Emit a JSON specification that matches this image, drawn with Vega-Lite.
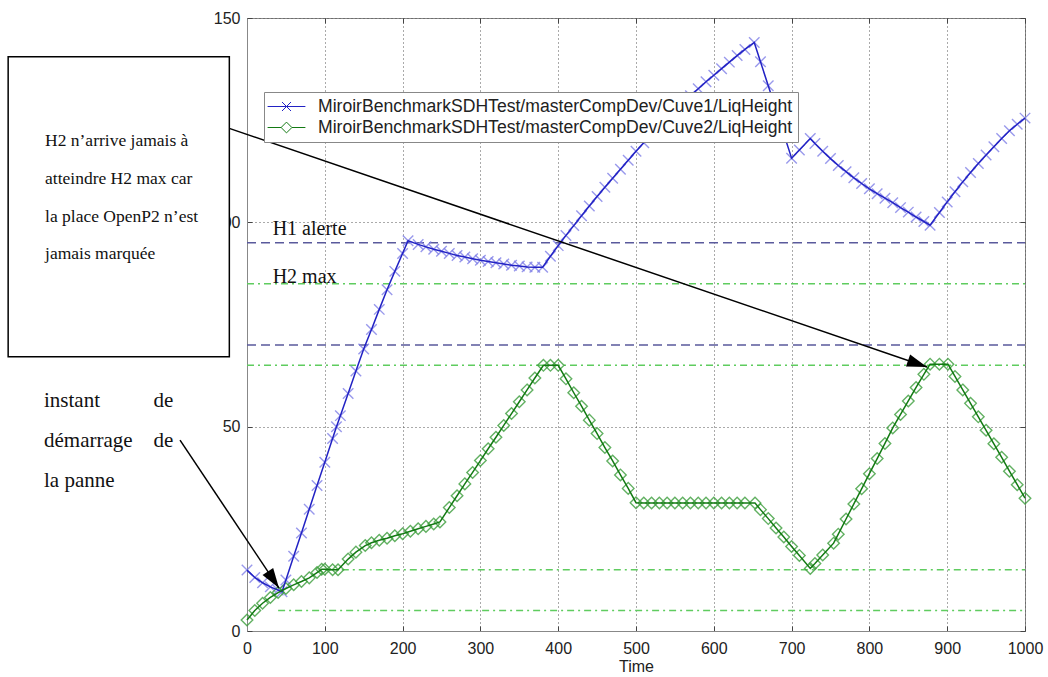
{
  "$schema": "https://vega.github.io/schema/vega-lite/v6.json",
  "width": 778,
  "height": 613,
  "autosize": {"type": "none"},
  "padding": {"left": 247, "top": 18, "right": 23, "bottom": 46},
  "background": "white",
  "config": {"view": {"stroke": "#888", "strokeWidth": 1}},
  "datasets": {
    "levels": [
      {"time": 0, "h": 14.9, "s": "Cuve1"}, {"time": 10, "h": 13.1, "s": "Cuve1"}, {"time": 20, "h": 11.8, "s": "Cuve1"}, {"time": 30, "h": 10.8, "s": "Cuve1"}, {"time": 40, "h": 10.0, "s": "Cuve1"}, {"time": 45, "h": 9.6, "s": "Cuve1"}, {"time": 50, "h": 12.5, "s": "Cuve1"}, {"time": 60, "h": 18.3, "s": "Cuve1"}, {"time": 70, "h": 24.0, "s": "Cuve1"}, {"time": 80, "h": 29.8, "s": "Cuve1"}, {"time": 90, "h": 35.6, "s": "Cuve1"}, {"time": 100, "h": 41.3, "s": "Cuve1"}, {"time": 110, "h": 47.1, "s": "Cuve1"}, {"time": 115, "h": 50.0, "s": "Cuve1"}, {"time": 120, "h": 52.7, "s": "Cuve1"}, {"time": 130, "h": 58.1, "s": "Cuve1"}, {"time": 140, "h": 63.6, "s": "Cuve1"}, {"time": 150, "h": 69.0, "s": "Cuve1"}, {"time": 160, "h": 73.8, "s": "Cuve1"}, {"time": 170, "h": 78.7, "s": "Cuve1"}, {"time": 180, "h": 83.5, "s": "Cuve1"}, {"time": 190, "h": 88.0, "s": "Cuve1"}, {"time": 200, "h": 92.4, "s": "Cuve1"}, {"time": 207, "h": 95.5, "s": "Cuve1"}, {"time": 220, "h": 94.6, "s": "Cuve1"}, {"time": 230, "h": 94.0, "s": "Cuve1"}, {"time": 240, "h": 93.4, "s": "Cuve1"}, {"time": 250, "h": 92.9, "s": "Cuve1"}, {"time": 260, "h": 92.4, "s": "Cuve1"}, {"time": 270, "h": 91.9, "s": "Cuve1"}, {"time": 280, "h": 91.5, "s": "Cuve1"}, {"time": 290, "h": 91.1, "s": "Cuve1"}, {"time": 300, "h": 90.7, "s": "Cuve1"}, {"time": 310, "h": 90.4, "s": "Cuve1"}, {"time": 320, "h": 90.1, "s": "Cuve1"}, {"time": 330, "h": 89.8, "s": "Cuve1"}, {"time": 340, "h": 89.5, "s": "Cuve1"}, {"time": 350, "h": 89.3, "s": "Cuve1"}, {"time": 360, "h": 89.1, "s": "Cuve1"}, {"time": 370, "h": 89.0, "s": "Cuve1"}, {"time": 380, "h": 89.0, "s": "Cuve1"}, {"time": 390, "h": 91.7, "s": "Cuve1"}, {"time": 400, "h": 94.3, "s": "Cuve1"}, {"time": 410, "h": 96.8, "s": "Cuve1"}, {"time": 420, "h": 99.2, "s": "Cuve1"}, {"time": 430, "h": 101.6, "s": "Cuve1"}, {"time": 440, "h": 104.0, "s": "Cuve1"}, {"time": 450, "h": 106.3, "s": "Cuve1"}, {"time": 460, "h": 108.6, "s": "Cuve1"}, {"time": 470, "h": 110.8, "s": "Cuve1"}, {"time": 480, "h": 113.0, "s": "Cuve1"}, {"time": 490, "h": 115.2, "s": "Cuve1"}, {"time": 500, "h": 117.4, "s": "Cuve1"}, {"time": 510, "h": 119.5, "s": "Cuve1"}, {"time": 520, "h": 121.5, "s": "Cuve1"}, {"time": 530, "h": 123.5, "s": "Cuve1"}, {"time": 540, "h": 125.4, "s": "Cuve1"}, {"time": 550, "h": 127.3, "s": "Cuve1"}, {"time": 560, "h": 129.2, "s": "Cuve1"}, {"time": 570, "h": 131.0, "s": "Cuve1"}, {"time": 580, "h": 132.7, "s": "Cuve1"}, {"time": 590, "h": 134.4, "s": "Cuve1"}, {"time": 600, "h": 136.0, "s": "Cuve1"}, {"time": 610, "h": 137.6, "s": "Cuve1"}, {"time": 620, "h": 139.2, "s": "Cuve1"}, {"time": 630, "h": 140.8, "s": "Cuve1"}, {"time": 640, "h": 142.3, "s": "Cuve1"}, {"time": 652, "h": 144.0, "s": "Cuve1"}, {"time": 660, "h": 139.3, "s": "Cuve1"}, {"time": 670, "h": 133.4, "s": "Cuve1"}, {"time": 680, "h": 127.5, "s": "Cuve1"}, {"time": 690, "h": 121.6, "s": "Cuve1"}, {"time": 700, "h": 115.7, "s": "Cuve1"}, {"time": 710, "h": 117.7, "s": "Cuve1"}, {"time": 724, "h": 120.5, "s": "Cuve1"}, {"time": 730, "h": 119.3, "s": "Cuve1"}, {"time": 740, "h": 117.4, "s": "Cuve1"}, {"time": 750, "h": 115.6, "s": "Cuve1"}, {"time": 760, "h": 113.9, "s": "Cuve1"}, {"time": 770, "h": 112.4, "s": "Cuve1"}, {"time": 780, "h": 110.9, "s": "Cuve1"}, {"time": 790, "h": 109.5, "s": "Cuve1"}, {"time": 800, "h": 108.2, "s": "Cuve1"}, {"time": 810, "h": 107.0, "s": "Cuve1"}, {"time": 820, "h": 105.9, "s": "Cuve1"}, {"time": 830, "h": 104.8, "s": "Cuve1"}, {"time": 840, "h": 103.6, "s": "Cuve1"}, {"time": 850, "h": 102.5, "s": "Cuve1"}, {"time": 860, "h": 101.3, "s": "Cuve1"}, {"time": 870, "h": 100.2, "s": "Cuve1"}, {"time": 878, "h": 99.3, "s": "Cuve1"}, {"time": 890, "h": 102.4, "s": "Cuve1"}, {"time": 900, "h": 105.0, "s": "Cuve1"}, {"time": 910, "h": 107.5, "s": "Cuve1"}, {"time": 920, "h": 109.9, "s": "Cuve1"}, {"time": 930, "h": 112.2, "s": "Cuve1"}, {"time": 940, "h": 114.4, "s": "Cuve1"}, {"time": 950, "h": 116.5, "s": "Cuve1"}, {"time": 960, "h": 118.5, "s": "Cuve1"}, {"time": 970, "h": 120.5, "s": "Cuve1"}, {"time": 980, "h": 122.4, "s": "Cuve1"}, {"time": 990, "h": 124.0, "s": "Cuve1"}, {"time": 1000, "h": 125.5, "s": "Cuve1"},
      {"time": 0, "h": 2.7, "s": "Cuve2"}, {"time": 10, "h": 5.0, "s": "Cuve2"}, {"time": 20, "h": 6.8, "s": "Cuve2"}, {"time": 30, "h": 8.2, "s": "Cuve2"}, {"time": 40, "h": 9.4, "s": "Cuve2"}, {"time": 50, "h": 10.4, "s": "Cuve2"}, {"time": 60, "h": 11.3, "s": "Cuve2"}, {"time": 70, "h": 12.1, "s": "Cuve2"}, {"time": 80, "h": 13.0, "s": "Cuve2"}, {"time": 90, "h": 14.3, "s": "Cuve2"}, {"time": 96, "h": 15.1, "s": "Cuve2"}, {"time": 100, "h": 15.1, "s": "Cuve2"}, {"time": 110, "h": 15.0, "s": "Cuve2"}, {"time": 117, "h": 15.0, "s": "Cuve2"}, {"time": 130, "h": 17.6, "s": "Cuve2"}, {"time": 140, "h": 19.3, "s": "Cuve2"}, {"time": 152, "h": 20.9, "s": "Cuve2"}, {"time": 160, "h": 21.6, "s": "Cuve2"}, {"time": 170, "h": 22.2, "s": "Cuve2"}, {"time": 180, "h": 22.7, "s": "Cuve2"}, {"time": 190, "h": 23.3, "s": "Cuve2"}, {"time": 200, "h": 23.8, "s": "Cuve2"}, {"time": 210, "h": 24.4, "s": "Cuve2"}, {"time": 220, "h": 25.0, "s": "Cuve2"}, {"time": 230, "h": 25.6, "s": "Cuve2"}, {"time": 240, "h": 26.2, "s": "Cuve2"}, {"time": 248, "h": 26.7, "s": "Cuve2"}, {"time": 260, "h": 30.2, "s": "Cuve2"}, {"time": 270, "h": 33.1, "s": "Cuve2"}, {"time": 280, "h": 36.0, "s": "Cuve2"}, {"time": 290, "h": 38.8, "s": "Cuve2"}, {"time": 300, "h": 41.7, "s": "Cuve2"}, {"time": 310, "h": 44.6, "s": "Cuve2"}, {"time": 320, "h": 47.4, "s": "Cuve2"}, {"time": 330, "h": 50.3, "s": "Cuve2"}, {"time": 340, "h": 53.2, "s": "Cuve2"}, {"time": 350, "h": 56.1, "s": "Cuve2"}, {"time": 360, "h": 59.0, "s": "Cuve2"}, {"time": 370, "h": 61.9, "s": "Cuve2"}, {"time": 381, "h": 65.0, "s": "Cuve2"}, {"time": 390, "h": 65.0, "s": "Cuve2"}, {"time": 400, "h": 65.0, "s": "Cuve2"}, {"time": 410, "h": 61.7, "s": "Cuve2"}, {"time": 420, "h": 58.3, "s": "Cuve2"}, {"time": 430, "h": 55.0, "s": "Cuve2"}, {"time": 440, "h": 51.6, "s": "Cuve2"}, {"time": 450, "h": 48.3, "s": "Cuve2"}, {"time": 460, "h": 44.9, "s": "Cuve2"}, {"time": 470, "h": 41.6, "s": "Cuve2"}, {"time": 480, "h": 38.2, "s": "Cuve2"}, {"time": 490, "h": 34.9, "s": "Cuve2"}, {"time": 500, "h": 31.4, "s": "Cuve2"}, {"time": 510, "h": 31.3, "s": "Cuve2"}, {"time": 520, "h": 31.3, "s": "Cuve2"}, {"time": 530, "h": 31.3, "s": "Cuve2"}, {"time": 540, "h": 31.3, "s": "Cuve2"}, {"time": 550, "h": 31.3, "s": "Cuve2"}, {"time": 560, "h": 31.3, "s": "Cuve2"}, {"time": 570, "h": 31.3, "s": "Cuve2"}, {"time": 580, "h": 31.3, "s": "Cuve2"}, {"time": 590, "h": 31.3, "s": "Cuve2"}, {"time": 600, "h": 31.3, "s": "Cuve2"}, {"time": 610, "h": 31.3, "s": "Cuve2"}, {"time": 620, "h": 31.3, "s": "Cuve2"}, {"time": 630, "h": 31.3, "s": "Cuve2"}, {"time": 640, "h": 31.3, "s": "Cuve2"}, {"time": 653, "h": 31.3, "s": "Cuve2"}, {"time": 660, "h": 29.7, "s": "Cuve2"}, {"time": 670, "h": 27.5, "s": "Cuve2"}, {"time": 680, "h": 25.2, "s": "Cuve2"}, {"time": 690, "h": 23.0, "s": "Cuve2"}, {"time": 700, "h": 20.7, "s": "Cuve2"}, {"time": 710, "h": 18.5, "s": "Cuve2"}, {"time": 724, "h": 15.3, "s": "Cuve2"}, {"time": 730, "h": 16.5, "s": "Cuve2"}, {"time": 740, "h": 18.6, "s": "Cuve2"}, {"time": 754, "h": 21.5, "s": "Cuve2"}, {"time": 760, "h": 23.7, "s": "Cuve2"}, {"time": 770, "h": 27.4, "s": "Cuve2"}, {"time": 780, "h": 31.1, "s": "Cuve2"}, {"time": 790, "h": 34.8, "s": "Cuve2"}, {"time": 800, "h": 38.5, "s": "Cuve2"}, {"time": 810, "h": 42.2, "s": "Cuve2"}, {"time": 820, "h": 45.9, "s": "Cuve2"}, {"time": 830, "h": 49.7, "s": "Cuve2"}, {"time": 840, "h": 53.0, "s": "Cuve2"}, {"time": 850, "h": 56.3, "s": "Cuve2"}, {"time": 860, "h": 59.6, "s": "Cuve2"}, {"time": 870, "h": 62.8, "s": "Cuve2"}, {"time": 878, "h": 65.3, "s": "Cuve2"}, {"time": 890, "h": 65.3, "s": "Cuve2"}, {"time": 901, "h": 65.3, "s": "Cuve2"}, {"time": 910, "h": 62.3, "s": "Cuve2"}, {"time": 920, "h": 59.0, "s": "Cuve2"}, {"time": 930, "h": 55.7, "s": "Cuve2"}, {"time": 940, "h": 52.4, "s": "Cuve2"}, {"time": 950, "h": 49.1, "s": "Cuve2"}, {"time": 960, "h": 45.8, "s": "Cuve2"}, {"time": 970, "h": 42.5, "s": "Cuve2"}, {"time": 980, "h": 39.1, "s": "Cuve2"}, {"time": 990, "h": 35.8, "s": "Cuve2"}, {"time": 1000, "h": 32.5, "s": "Cuve2"}
    ]
  },
  "resolve": {"axis": {"x": "independent", "y": "independent"}, "scale": {"color": "independent"}},
  "layer": [
    {
      "data": {"values": [{"y": 95, "x0": 0, "x1": 1000}, {"y": 70, "x0": 0, "x1": 1000}]},
      "mark": {"type": "rule", "stroke": "#5a5a9c", "strokeWidth": 1.5, "strokeDash": [9, 5]},
      "encoding": {
        "x": {"field": "x0", "type": "quantitative", "scale": {"domain": [0, 1000], "nice": false, "zero": false},
              "axis": {"orient": "top", "values": [0, 100, 200, 300, 400, 500, 600, 700, 800, 900, 1000], "labels": false, "domain": false, "grid": false, "ticks": true, "tickSize": -5, "tickColor": "#444", "title": null}},
        "x2": {"field": "x1"},
        "y": {"field": "y", "type": "quantitative", "scale": {"domain": [0, 150], "nice": false, "zero": false},
              "axis": {"orient": "right", "values": [0, 50, 100, 150], "labels": false, "domain": false, "grid": false, "ticks": true, "tickSize": -5, "tickColor": "#444", "title": null}}
      }
    },
    {
      "data": {"values": [{"y": 85, "x0": 0, "x1": 1000}, {"y": 65, "x0": 0, "x1": 1000}, {"y": 15, "x0": 100, "x1": 1000}, {"y": 5, "x0": 40, "x1": 1000}]},
      "mark": {"type": "rule", "stroke": "#5fcc5f", "strokeWidth": 1.5, "strokeDash": [7, 4, 2, 4]},
      "encoding": {
        "x": {"field": "x0", "type": "quantitative", "scale": {"domain": [0, 1000], "nice": false, "zero": false}, "axis": null},
        "x2": {"field": "x1"},
        "y": {"field": "y", "type": "quantitative", "scale": {"domain": [0, 150], "nice": false, "zero": false}, "axis": null}
      }
    },
    {
      "data": {"name": "levels"},
      "mark": {"type": "point", "filled": false, "strokeWidth": 1.4, "opacity": 0.8, "size": 110},
      "encoding": {
        "x": {"field": "time", "type": "quantitative", "scale": {"domain": [0, 1000], "nice": false, "zero": false}, "axis": null},
        "y": {"field": "h", "type": "quantitative", "scale": {"domain": [0, 150], "nice": false, "zero": false}, "axis": null},
        "shape": {"field": "s", "type": "nominal", "scale": {"domain": ["Cuve1", "Cuve2"], "range": ["M-1,-1L1,1M-1,1L1,-1", "M0,-1.1L1.1,0L0,1.1L-1.1,0Z"]}, "legend": null},
        "color": {"field": "s", "type": "nominal", "scale": {"domain": ["Cuve1", "Cuve2"], "range": ["#8080e8", "#3c9e3c"]}, "legend": null}
      }
    },
    {
      "data": {"name": "levels"},
      "mark": {"type": "line", "strokeWidth": 1.5},
      "encoding": {
        "x": {"field": "time", "type": "quantitative", "scale": {"domain": [0, 1000], "nice": false, "zero": false},
              "axis": {"orient": "bottom", "values": [0, 100, 200, 300, 400, 500, 600, 700, 800, 900, 1000], "format": "d", "grid": true, "gridColor": "#555", "gridDash": [1, 3], "gridWidth": 1, "domainColor": "#888", "tickSize": -5, "tickColor": "#444", "labelFont": "Liberation Sans", "labelFontSize": 16, "labelColor": "#222", "labelPadding": 14, "labelFlush": false, "title": "Time", "titleFont": "Liberation Sans", "titleFontSize": 16, "titleFontWeight": "normal", "titleColor": "#222", "titlePadding": 2}},
        "y": {"field": "h", "type": "quantitative", "scale": {"domain": [0, 150], "nice": false, "zero": false},
              "axis": {"orient": "left", "values": [0, 50, 100, 150], "grid": true, "gridColor": "#555", "gridDash": [1, 3], "gridWidth": 1, "domainColor": "#888", "tickSize": -5, "tickColor": "#444", "labelFont": "Liberation Sans", "labelFontSize": 16, "labelColor": "#222", "labelPadding": 12, "labelFlush": false, "title": null}},
        "color": {"field": "s", "type": "nominal", "scale": {"domain": ["Cuve1", "Cuve2"], "range": ["#2222c4", "#137a13"]},
                  "legend": {"orient": "none", "legendX": 17, "legendY": 74, "title": null, "direction": "vertical",
                             "labelExpr": "'MiroirBenchmarkSDHTest/masterCompDev/' + datum.label + '/LiqHeight'",
                             "labelFont": "Liberation Sans", "labelFontSize": 17.6, "labelColor": "#222", "labelLimit": 700,
                             "symbolSize": 324, "symbolStrokeWidth": 1, "symbolOffset": 8, "labelOffset": 22,
                             "padding": 5, "rowPadding": 2, "strokeColor": "#888", "fillColor": "white",
                             "encode": {"symbols": {"update": {"shape": {"signal": "datum.value === 'Cuve1' ? 'M-2.1,0H2.1M-0.5,-0.5L0.5,0.5M-0.5,0.5L0.5,-0.5' : 'M-2.1,0H-0.6M0.6,0H2.1M-0.6,0L0,-0.6L0.6,0L0,0.6Z'"}, "fill": {"value": "transparent"}, "strokeWidth": {"value": 1}, "opacity": {"value": 1}}}}}}
      }
    },
    {
      "data": {"values": [{"t": "H1 alerte", "x": 33, "y": 96.9}, {"t": "H2 max", "x": 33, "y": 85.2}]},
      "mark": {"type": "text", "align": "left", "baseline": "alphabetic", "font": "Liberation Serif", "fontSize": 20, "color": "#111"},
      "encoding": {
        "x": {"field": "x", "type": "quantitative", "scale": {"domain": [0, 1000], "nice": false, "zero": false}, "axis": null},
        "y": {"field": "y", "type": "quantitative", "scale": {"domain": [0, 150], "nice": false, "zero": false}, "axis": null},
        "text": {"field": "t"}
      }
    },
    {
      "data": {"values": [{"x": -307, "x2": -22.7, "y": 140.5, "y2": 67.1}]},
      "mark": {"type": "rect", "fill": "white", "stroke": "black", "strokeWidth": 1.5},
      "encoding": {
        "x": {"field": "x", "type": "quantitative", "scale": {"domain": [0, 1000], "nice": false, "zero": false}, "axis": null},
        "x2": {"field": "x2"},
        "y": {"field": "y", "type": "quantitative", "scale": {"domain": [0, 150], "nice": false, "zero": false}, "axis": null},
        "y2": {"field": "y2"}
      }
    },
    {
      "data": {"values": [
        {"t": "H2  n’arrive jamais à", "x": -259.6, "y": 118.74},
        {"t": "atteindre H2 max car", "x": -259.6, "y": 109.49},
        {"t": "la place OpenP2 n’est", "x": -259.6, "y": 100.15},
        {"t": "jamais marquée", "x": -259.6, "y": 90.95}
      ]},
      "mark": {"type": "text", "align": "left", "baseline": "alphabetic", "font": "Liberation Serif", "fontSize": 17.5, "color": "#111"},
      "encoding": {
        "x": {"field": "x", "type": "quantitative", "scale": {"domain": [0, 1000], "nice": false, "zero": false}, "axis": null},
        "y": {"field": "y", "type": "quantitative", "scale": {"domain": [0, 150], "nice": false, "zero": false}, "axis": null},
        "text": {"field": "t"}
      }
    },
    {
      "data": {"values": [
        {"t": "instant", "x": -260.9, "y": 54.73},
        {"t": "démarrage", "x": -260.9, "y": 44.95},
        {"t": "la panne", "x": -260.9, "y": 35.16}
      ]},
      "mark": {"type": "text", "align": "left", "baseline": "alphabetic", "font": "Liberation Serif", "fontSize": 21, "color": "#111"},
      "encoding": {
        "x": {"field": "x", "type": "quantitative", "scale": {"domain": [0, 1000], "nice": false, "zero": false}, "axis": null},
        "y": {"field": "y", "type": "quantitative", "scale": {"domain": [0, 150], "nice": false, "zero": false}, "axis": null},
        "text": {"field": "t"}
      }
    },
    {
      "data": {"values": [
        {"t": "de", "x": -94.7, "y": 54.73},
        {"t": "de", "x": -94.7, "y": 44.95}
      ]},
      "mark": {"type": "text", "align": "right", "baseline": "alphabetic", "font": "Liberation Serif", "fontSize": 21, "color": "#111"},
      "encoding": {
        "x": {"field": "x", "type": "quantitative", "scale": {"domain": [0, 1000], "nice": false, "zero": false}, "axis": null},
        "y": {"field": "y", "type": "quantitative", "scale": {"domain": [0, 150], "nice": false, "zero": false}, "axis": null},
        "text": {"field": "t"}
      }
    },
    {
      "data": {"values": [
        {"x": -22.8, "y": 123.0, "x2": 874, "y2": 64.6},
        {"x": -86.1, "y": 46.7, "x2": 41.1, "y2": 10.5}
      ]},
      "mark": {"type": "rule", "stroke": "black", "strokeWidth": 1.5},
      "encoding": {
        "x": {"field": "x", "type": "quantitative", "scale": {"domain": [0, 1000], "nice": false, "zero": false}, "axis": null},
        "x2": {"field": "x2"},
        "y": {"field": "y", "type": "quantitative", "scale": {"domain": [0, 150], "nice": false, "zero": false}, "axis": null},
        "y2": {"field": "y2"}
      }
    },
    {
      "data": {"values": [{"x": 874, "y": 64.6}]},
      "mark": {"type": "point", "shape": "M0,0L-0.32,1L0.32,1Z", "filled": true, "fill": "black", "stroke": null, "opacity": 1, "size": 1600, "angle": 108.9},
      "encoding": {
        "x": {"field": "x", "type": "quantitative", "scale": {"domain": [0, 1000], "nice": false, "zero": false}, "axis": null},
        "y": {"field": "y", "type": "quantitative", "scale": {"domain": [0, 150], "nice": false, "zero": false}, "axis": null}
      }
    },
    {
      "data": {"values": [{"x": 41.1, "y": 10.5}]},
      "mark": {"type": "point", "shape": "M0,0L-0.32,1L0.32,1Z", "filled": true, "fill": "black", "stroke": null, "opacity": 1, "size": 1600, "angle": 146.2},
      "encoding": {
        "x": {"field": "x", "type": "quantitative", "scale": {"domain": [0, 1000], "nice": false, "zero": false}, "axis": null},
        "y": {"field": "y", "type": "quantitative", "scale": {"domain": [0, 150], "nice": false, "zero": false}, "axis": null}
      }
    }
  ]
}
